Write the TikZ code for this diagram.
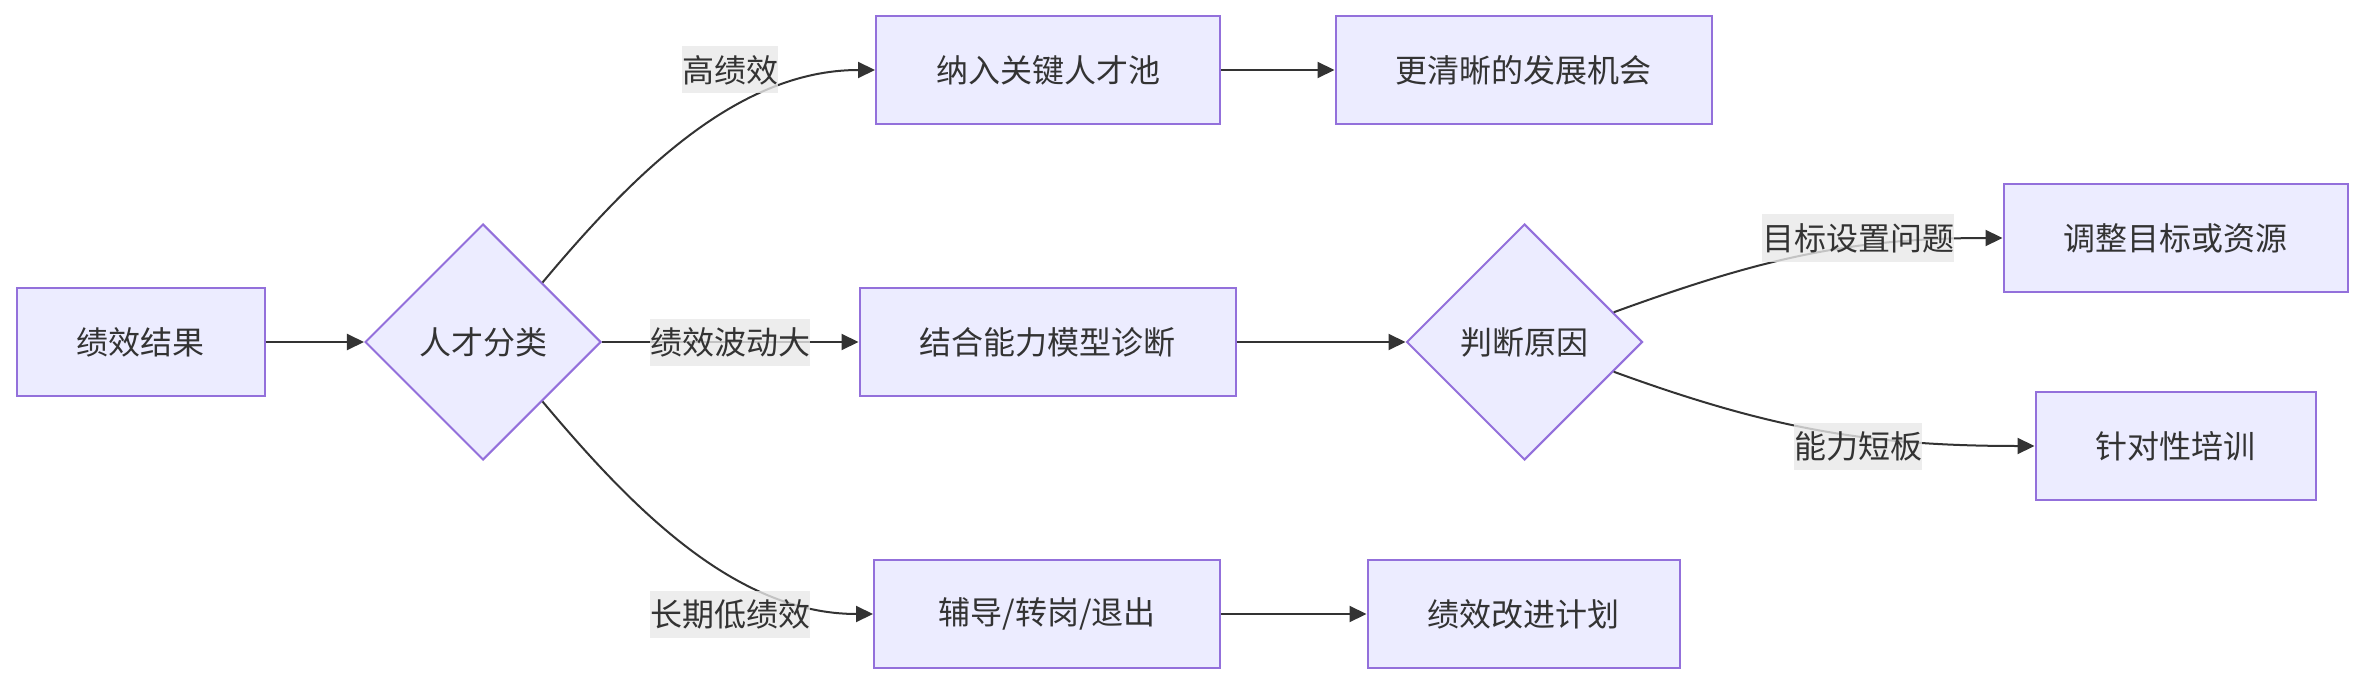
\documentclass[tikz,border=0pt]{standalone}
\usepackage{fontspec}
\setmainfont{Noto Sans CJK SC}
\usepackage{xcolor}
\usetikzlibrary{shapes.geometric,arrows.meta,calc}

\definecolor{nodefill}{HTML}{ECECFF}
\definecolor{nodeline}{HTML}{9370DB}
\definecolor{edgeline}{HTML}{333333}
\definecolor{lblfill}{HTML}{E8E8E8}

\begin{document}
\begin{tikzpicture}[
    x=0.5pt, y=-0.5pt,
    every node/.style={font=\fontsize{16pt}{19pt}\selectfont, text=edgeline},
    procbox/.style={draw=nodeline, fill=nodefill, line width=1pt, minimum height=54pt, inner xsep=30pt},
    decbox/.style={draw=nodeline, fill=nodefill, line width=1pt, diamond, aspect=1, minimum width=118pt, minimum height=118pt, inner sep=0pt},
    flow/.style={draw=edgeline, line width=1pt, -{Triangle[length=8.5pt,width=8pt]}},
    edgelbl/.style={fill=lblfill, fill opacity=0.8, text opacity=1, inner xsep=0pt, inner ysep=0pt, minimum height=23.5pt},
]
    \useasboundingbox (0,0) rectangle (2364,684);

    % start and first decision
    \node[procbox] (res) at (140.5,342) {绩效结果};
    \node[decbox] (cls) at (483,342) {人才分类};

    % three branches
    \node[procbox] (ktp) at (1048,70) {纳入关键人才池};
    \node[procbox] (opp) at (1523.5,70) {更清晰的发展机会};
    \node[procbox] (diag) at (1047.5,342) {结合能力模型诊断};
    \node[decbox] (jdg) at (1524.5,342) {判断原因};
    \node[procbox, minimum width=173pt] (cpx) at (1047,614) {辅导/转岗/退出};
    \node[procbox] (pip) at (1523.5,614) {绩效改进计划};

    % outcomes of the diagnosis
    \node[procbox] (adj) at (2175.5,238) {调整目标或资源};
    \node[procbox] (trn) at (2175.5,446) {针对性培训};

    % connectors
    \draw[flow] (res) -- (cls);
    \draw[flow] (cls.north east) to[out=50, in=180, looseness=0.9] (ktp.west);
    \draw[flow] (cls) -- (diag);
    \draw[flow] (cls.south east) to[out=-50, in=180, looseness=0.9] (cpx.west);
    \draw[flow] (ktp) -- (opp);
    \draw[flow] (diag) -- (jdg);
    \draw[flow] (cpx) -- (pip);
    \draw[flow] ($(jdg.north east)!0.5!(jdg.east)$) to[out=20, in=180] (adj.west);
    \draw[flow] ($(jdg.south east)!0.5!(jdg.east)$) to[out=-20, in=180] (trn.west);

    % edge labels
    \node[edgelbl] (lhigh) at (730,70) {高绩效};
    \node[edgelbl] (lvar) at (730,342) {绩效波动大};
    \node[edgelbl] (llow) at (730,614) {长期低绩效};
    \node[edgelbl] (lgoal) at (1858,238) {目标设置问题};
    \node[edgelbl] (lskill) at (1858,446) {能力短板};
\end{tikzpicture}
\end{document}
